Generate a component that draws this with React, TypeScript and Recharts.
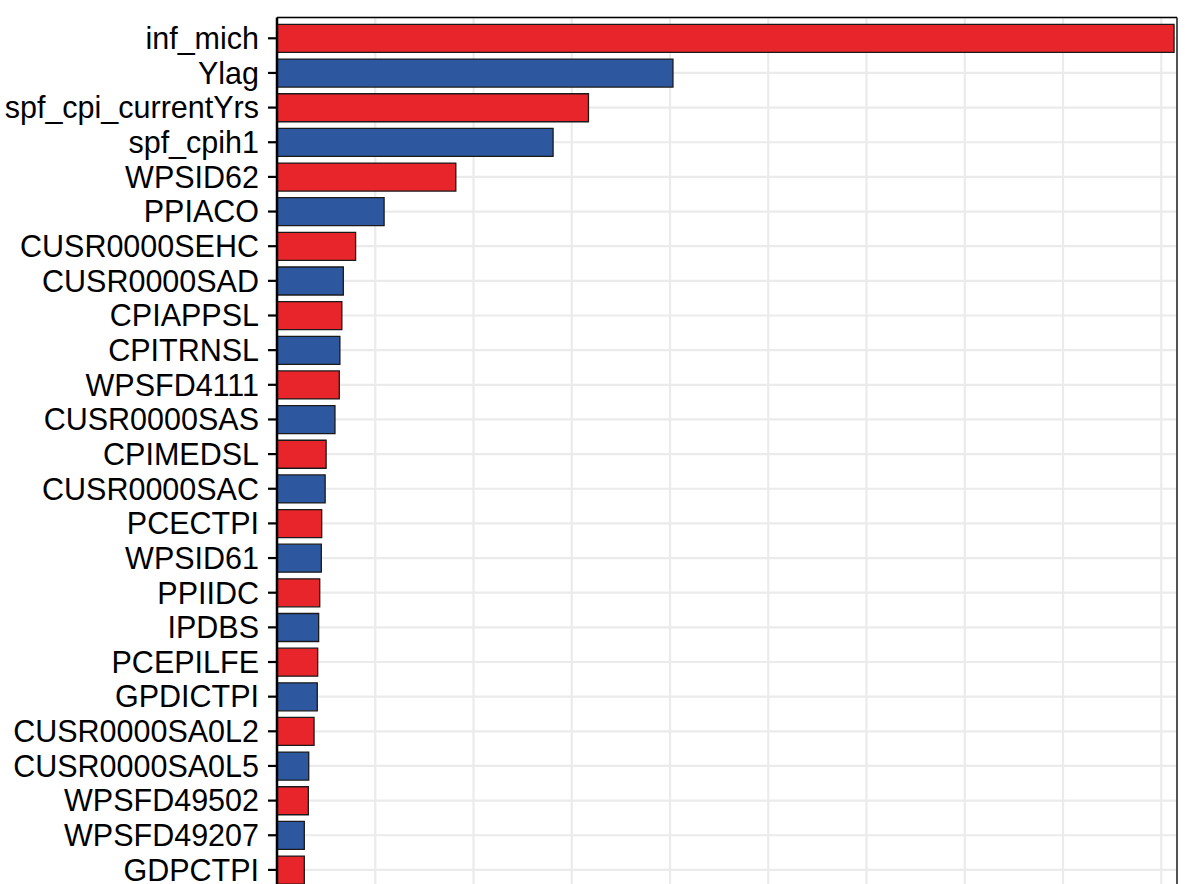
import React from "react";
import { BarChart, Bar, XAxis, YAxis, CartesianGrid, Cell } from "recharts";

const categories = [
  "inf_mich", "Ylag", "spf_cpi_currentYrs", "spf_cpih1", "WPSID62", "PPIACO",
  "CUSR0000SEHC", "CUSR0000SAD", "CPIAPPSL", "CPITRNSL", "WPSFD4111", "CUSR0000SAS",
  "CPIMEDSL", "CUSR0000SAC", "PCECTPI", "WPSID61", "PPIIDC", "IPDBS", "PCEPILFE",
  "GPDICTPI", "CUSR0000SA0L2", "CUSR0000SA0L5", "WPSFD49502", "WPSFD49207", "GDPCTPI",
];

const importance = [
  9.13, 4.03, 3.17, 2.81, 1.82, 1.09,
  0.80, 0.675, 0.66, 0.64, 0.634, 0.59,
  0.50, 0.49, 0.455, 0.451, 0.435, 0.424, 0.414,
  0.41, 0.377, 0.323, 0.319, 0.278, 0.278,
];

const barColors = ["#E8252A", "#2D58A0"];
const xTicks = [1, 2, 3, 4, 5, 6, 7, 8, 9];
const xMax = 9.16;

const data = categories.map((name, i) => ({ name, value: importance[i] }));

export default function App() {
  return (
    <div style={{ position: "absolute", left: 0, top: 0, width: 1190, height: 900 }}>
      <BarChart
        width={1190}
        height={900}
        data={data}
        layout="vertical"
        margin={{ top: 16.5, right: 12, bottom: 9.3, left: 0 }}
        barCategoryGap="10%"
      >
        <CartesianGrid stroke="#EBEBEB" strokeWidth={2.2} />
        <XAxis
          type="number"
          dataKey="value"
          domain={[0, xMax]}
          ticks={xTicks}
          allowDataOverflow
          hide
        />
        <XAxis
          xAxisId="top"
          orientation="top"
          type="number"
          domain={[0, xMax]}
          height={1}
          tick={false}
          tickLine={false}
          axisLine={{ stroke: "#000", strokeWidth: 1.3 }}
        />
        <YAxis
          type="category"
          dataKey="name"
          width={277}
          padding={{ top: 3.47, bottom: 3.47 }}
          interval={0}
          tickSize={9}
          tickMargin={9}
          tickLine={{ stroke: "#000", strokeWidth: 2.2 }}
          axisLine={{ stroke: "#000", strokeWidth: 2.5 }}
          tick={{ fill: "#000", fontSize: 30.5, fontFamily: "'Liberation Sans', Arial, sans-serif" }}
        />
        <YAxis
          yAxisId="right"
          orientation="right"
          type="category"
          dataKey="name"
          width={1}
          tick={false}
          tickLine={false}
          axisLine={{ stroke: "#000", strokeWidth: 1.3 }}
        />
        <Bar dataKey="value" stroke="#1a1a1a" strokeWidth={1.3} isAnimationActive={false}>
          {data.map((d, i) => (
            <Cell key={d.name} fill={barColors[i % 2]} />
          ))}
        </Bar>
      </BarChart>
    </div>
  );
}
